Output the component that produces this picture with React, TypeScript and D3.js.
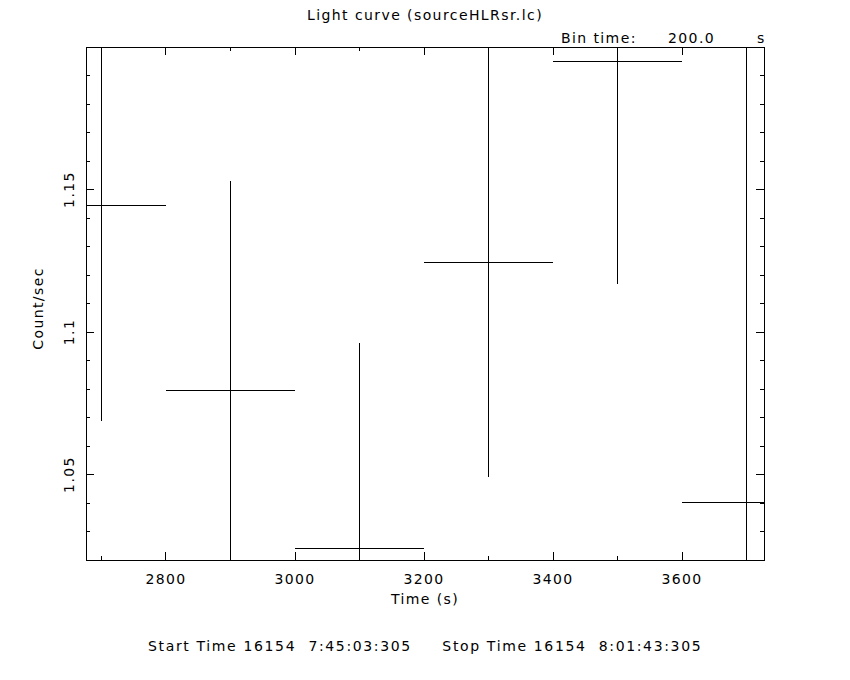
import React from "react";
import {scaleLinear, range} from "d3";

// light curve bins (centre time, rate, error)
const binTimes = [2700, 2900, 3100, 3300, 3500, 3700];
const rates = [1.1445, 1.0793, 1.0240, 1.1244, 1.1948, 1.0402];
const rateErrors = [0.0757, 0.0736, 0.0722, 0.0754, 0.0778, 0.17];
const binHalfWidth = 100;

const xMajorTicks = [2800, 3000, 3200, 3400, 3600];
const xMinorTicks = range(2700, 3800, 100);
const yMajorTicks = [1.05, 1.1, 1.15];
const yMajorLabels = ["1.05", "1.1", "1.15"];
const yMinorTicks = range(1.03, 1.2, 0.01);

const title = "Light curve (sourceHLRsr.lc)";
const xLabel = "Time (s)";
const yLabel = "Count/sec";
const footer = "Start Time 16154  7:45:03:305     Stop Time 16154  8:01:43:305";

const W = 850;
const H = 680;
const margin = {left: 86, right: 86, top: 47, bottom: 120};
const FONT = "'DejaVu Sans', sans-serif";

export default function App() {
    const x = scaleLinear().domain([2676, 3727]).range([margin.left, W - margin.right]);
    const y = scaleLinear().domain([1.02, 1.2]).range([H - margin.bottom, margin.top]);
    const [x0, x1] = x.range();
    const [y0, y1] = y.range(); // y0 bottom, y1 top

    const inX = (v) => v >= x.domain()[0] && v <= x.domain()[1];

    return (
        <svg width={W} height={H} style={{position: "absolute", left: 0, top: 0, background: "#fff"}}
             fontFamily={FONT} fontSize={14} letterSpacing={1.4}>
            <defs>
                <clipPath id="plot">
                    <rect x={x0} y={y1} width={x1 - x0} height={y0 - y1}/>
                </clipPath>
            </defs>
            <g stroke="#000" strokeWidth={1} shapeRendering="crispEdges" fill="none">
                <rect x={x0} y={y1} width={x1 - x0} height={y0 - y1}/>
                {/* x ticks, bottom and top */}
                {xMinorTicks.filter(inX).map(t => (
                    <g key={"xm" + t}>
                        <line x1={x(t)} x2={x(t)} y1={y0} y2={y0 - 4}/>
                        <line x1={x(t)} x2={x(t)} y1={y1} y2={y1 + 4}/>
                    </g>
                ))}
                {xMajorTicks.map(t => (
                    <g key={"xM" + t}>
                        <line x1={x(t)} x2={x(t)} y1={y0} y2={y0 - 8}/>
                        <line x1={x(t)} x2={x(t)} y1={y1} y2={y1 + 8}/>
                    </g>
                ))}
                {/* y ticks, left and right */}
                {yMinorTicks.map(t => (
                    <g key={"ym" + t}>
                        <line x1={x0} x2={x0 + 4} y1={y(t)} y2={y(t)}/>
                        <line x1={x1} x2={x1 - 4} y1={y(t)} y2={y(t)}/>
                    </g>
                ))}
                {yMajorTicks.map(t => (
                    <g key={"yM" + t}>
                        <line x1={x0} x2={x0 + 8} y1={y(t)} y2={y(t)}/>
                        <line x1={x1} x2={x1 - 8} y1={y(t)} y2={y(t)}/>
                    </g>
                ))}
                {/* error bars */}
                <g clipPath="url(#plot)">
                    {binTimes.map((t, i) => (
                        <g key={"b" + t}>
                            <line x1={x(t - binHalfWidth)} x2={x(t + binHalfWidth)} y1={y(rates[i])} y2={y(rates[i])}/>
                            <line x1={x(t)} x2={x(t)} y1={y(rates[i] - rateErrors[i])} y2={y(rates[i] + rateErrors[i])}/>
                        </g>
                    ))}
                </g>
            </g>
            <g fill="#000">
                <text x={307} y={20} textLength={236} lengthAdjust="spacing">{title}</text>
                <text x={561} y={43}>Bin time:</text>
                <text x={668} y={43}>200.0</text>
                <text x={757} y={43}>s</text>
                {xMajorTicks.map(t => (
                    <text key={"xl" + t} x={x(t)} y={584} textAnchor="middle">{t}</text>
                ))}
                {yMajorTicks.map((t, i) => (
                    <text key={"yl" + t} transform={`translate(74,${y(t)}) rotate(-90)`} textAnchor="middle">{yMajorLabels[i]}</text>
                ))}
                <text x={(x0 + x1) / 2} y={604} textAnchor="middle">{xLabel}</text>
                <text transform={`translate(43,${(y0 + y1) / 2 + 5}) rotate(-90)`} textAnchor="middle">{yLabel}</text>
                <text x={148} y={651} textLength={554} lengthAdjust="spacing" style={{whiteSpace: "pre"}}>{footer}</text>
            </g>
        </svg>
    );
}
